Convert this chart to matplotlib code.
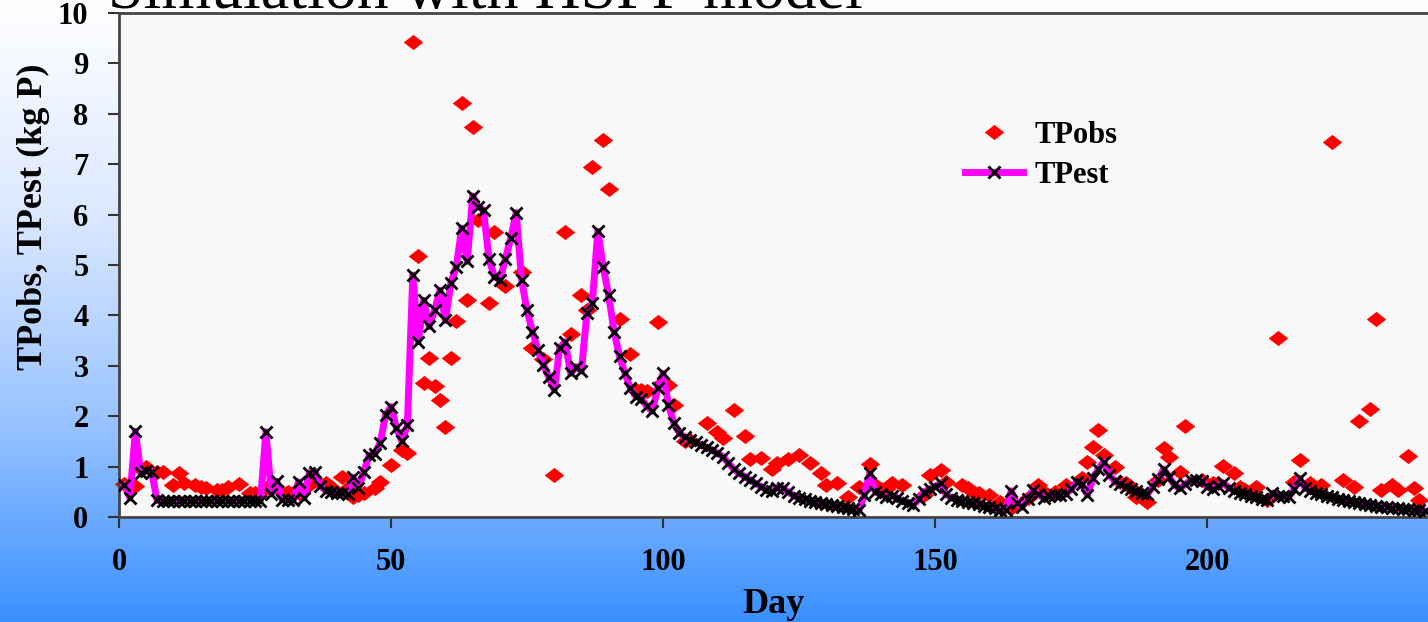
import matplotlib.pyplot as plt
import numpy as np
from matplotlib.colors import LinearSegmentedColormap


# ---------------------------------------------------------
# 1. DATA
# ---------------------------------------------------------

est_days = list(range(1, 241))
tp_est = [
    0.63, 0.38, 1.70, 0.88, 0.92, 0.90, 0.33, 0.32, 0.32, 0.32,
    0.32, 0.32, 0.32, 0.32, 0.32, 0.32, 0.32, 0.32, 0.32, 0.32,
    0.32, 0.32, 0.32, 0.32, 0.32, 0.32, 1.69, 0.46, 0.71, 0.34,
    0.34, 0.33, 0.70, 0.38, 0.88, 0.90, 0.62, 0.52, 0.50, 0.48,
    0.47, 0.45, 0.79, 0.58, 0.90, 1.23, 1.25, 1.47, 2.02, 2.19,
    1.76, 1.50, 1.83, 4.80, 3.48, 4.30, 3.78, 4.10, 4.50, 3.90,
    4.64, 4.97, 5.73, 5.07, 6.37, 6.16, 6.09, 5.12, 4.77, 4.70,
    5.12, 5.53, 6.04, 4.70, 4.10, 3.68, 3.31, 3.02, 2.78, 2.52,
    3.35, 3.48, 2.85, 2.98, 2.90, 4.05, 4.24, 5.67, 4.96, 4.40,
    3.68, 3.19, 2.85, 2.55, 2.39, 2.35, 2.20, 2.10, 2.55, 2.85,
    2.22, 1.86, 1.66, 1.58, 1.53, 1.48, 1.43, 1.38, 1.33, 1.27,
    1.20, 1.07, 0.95, 0.87, 0.80, 0.73, 0.67, 0.60, 0.54, 0.52,
    0.58, 0.57, 0.50, 0.42, 0.38, 0.35, 0.32, 0.29, 0.27, 0.25,
    0.23, 0.21, 0.19, 0.17, 0.16, 0.14, 0.44, 0.87, 0.50, 0.45,
    0.40, 0.42, 0.38, 0.32, 0.27, 0.24, 0.35, 0.50, 0.55, 0.60,
    0.67, 0.45, 0.38, 0.34, 0.31, 0.29, 0.27, 0.25, 0.22, 0.20,
    0.17, 0.14, 0.13, 0.52, 0.27, 0.20, 0.35, 0.54, 0.45, 0.37,
    0.42, 0.44, 0.43, 0.45, 0.55, 0.70, 0.65, 0.44, 0.77, 0.95,
    1.10, 0.83, 0.72, 0.65, 0.60, 0.56, 0.52, 0.48, 0.45, 0.60,
    0.75, 0.95, 0.80, 0.63, 0.57, 0.65, 0.73, 0.73, 0.72, 0.60,
    0.55, 0.62, 0.67, 0.58, 0.52, 0.48, 0.45, 0.42, 0.39, 0.36,
    0.34, 0.47, 0.42, 0.42, 0.40, 0.55, 0.77, 0.57, 0.52, 0.48,
    0.45, 0.42, 0.39, 0.36, 0.33, 0.31, 0.29, 0.27, 0.25, 0.23,
    0.22, 0.20, 0.19, 0.18, 0.17, 0.16, 0.15, 0.14, 0.13, 0.12,
]

obs_days = [
    1, 3, 4, 5, 7, 8, 10, 11, 12, 14, 15, 16, 18, 19, 20, 22, 24, 25,
    27, 28, 30, 31, 32, 33, 35, 36, 38, 39, 41, 42, 43, 44, 45, 47, 48,
    50, 52, 53, 54, 55, 56, 57, 58, 59, 60, 61, 62, 63, 64, 65, 66, 68,
    69, 71, 74, 76, 78, 80, 82, 83, 85, 86, 87, 89, 90, 92, 94, 95, 96,
    97, 99, 100, 101, 102, 104, 105, 108, 110, 111, 113, 115, 116, 118,
    120, 121, 123, 125, 127, 129, 130, 132, 134, 136, 138, 139, 140,
    141, 142, 144, 148, 149, 151, 152, 155, 156, 157, 158, 160, 162,
    164, 167, 169, 170, 172, 174, 177, 178, 179, 180, 181, 183, 184,
    185, 186, 187, 189, 191, 192, 193, 195, 196, 199, 201, 202, 203,
    205, 206, 207, 209, 211, 213, 216, 217, 219, 221, 223, 225, 227,
    228, 230, 231, 232, 234, 235, 237, 238, 239,
]
tp_obs = [
    0.65, 0.62, 0.95, 1.00, 0.90, 0.90, 0.63, 0.88, 0.67, 0.63, 0.60,
    0.58, 0.54, 0.54, 0.59, 0.65, 0.48, 0.48, 0.58, 0.61, 0.50, 0.50,
    0.48, 0.48, 0.63, 0.73, 0.67, 0.59, 0.80, 0.57, 0.40, 0.44, 0.47,
    0.57, 0.70, 1.03, 1.33, 1.27, 9.43, 5.18, 2.65, 3.15, 2.59, 2.32,
    1.79, 3.15, 3.88, 8.21, 4.31, 7.73, 5.90, 4.24, 5.66, 4.58, 4.87,
    3.35, 3.13, 0.83, 5.66, 3.63, 4.40, 4.10, 6.94, 7.48, 6.50, 3.93,
    3.23, 2.52, 2.52, 2.50, 3.87, 2.68, 2.62, 2.22, 1.50, 1.52, 1.86,
    1.69, 1.56, 2.12, 1.61, 1.16, 1.18, 0.95, 1.07, 1.16, 1.23, 1.07,
    0.87, 0.63, 0.67, 0.40, 0.60, 1.05, 0.63, 0.55, 0.55, 0.67, 0.63,
    0.44, 0.83, 0.93, 0.70, 0.63, 0.57, 0.50, 0.47, 0.44, 0.30, 0.17,
    0.37, 0.63, 0.50, 0.50, 0.63, 0.77, 1.10, 1.39, 1.73, 1.23, 1.00,
    0.70, 0.67, 0.57, 0.40, 0.30, 0.73, 1.36, 1.20, 0.90, 1.80, 0.73,
    0.67, 0.67, 1.01, 0.87, 0.60, 0.54, 0.60, 0.34, 3.55, 0.70, 1.13,
    0.67, 0.63, 7.45, 0.73, 0.60, 1.90, 2.14, 3.92, 0.54, 0.63, 0.54,
    1.22, 0.57, 0.34,
]

x_ticks = [0, 50, 100, 150, 200]
y_ticks = list(range(0, 11))


# ---------------------------------------------------------
# 2. FIGURE WITH GRADIENT BACKGROUND
# ---------------------------------------------------------

plt.rcParams["font.family"] = ["Liberation Serif", "DejaVu Serif"]

fig = plt.figure(figsize=(14.28, 6.22), dpi=100)

bg = fig.add_axes([0, 0, 1, 1], zorder=-10)
bg_cmap = LinearSegmentedColormap.from_list(
    "bg", ["#ffffff", "#dde9ff", "#9cc5ff", "#3a90ff"]
)
grad = np.linspace(0, 1, 256).reshape(-1, 1)
bg.imshow(grad, aspect="auto", cmap=bg_cmap, extent=[0, 1, 0, 1],
          origin="upper")
bg.set_axis_off()

fig.text(108 / 1428, 1 - 8 / 622, "Simulation with HSPF model",
         fontsize=46, va="baseline", ha="left", color="black")

ax = fig.add_axes([119 / 1428, 105 / 622, 1309 / 1428, 504 / 622])
ax.set_facecolor("#f8f8f8")


# ---------------------------------------------------------
# 3. SERIES
# ---------------------------------------------------------

diamond = [(-1, 0), (0, 0.78), (1, 0), (0, -0.78), (-1, 0)]

ax.plot(obs_days, tp_obs, linestyle="none", marker=diamond,
        markersize=14, color="#ff0000", markeredgewidth=0,
        label="TPobs", zorder=2, clip_on=False)

ax.plot(est_days, tp_est, color="#ff00ff", linewidth=5,
        marker="x", markersize=9, markeredgecolor="black",
        markeredgewidth=2, label="TPest", zorder=3)


# ---------------------------------------------------------
# 4. AXES STYLE
# ---------------------------------------------------------

ax.set_xlim(0, 240.6)
ax.set_ylim(0, 10)
ax.set_xticks(x_ticks)
ax.set_yticks(y_ticks)

ax.tick_params(axis="both", direction="out", colors="#333333",
               width=1.5, labelcolor="black", labelsize=22)
ax.tick_params(axis="y", length=8, pad=14)
ax.tick_params(axis="x", length=8, pad=14)
for lab in ax.get_xticklabels() + ax.get_yticklabels():
    lab.set_fontweight("bold")

for side in ["left", "bottom", "top"]:
    ax.spines[side].set_color("#444444")
    ax.spines[side].set_linewidth(2)
ax.spines["right"].set_visible(False)

ax.set_xlabel("Day", fontsize=26, fontweight="bold", labelpad=8)
ax.set_ylabel("TPobs, TPest (kg P)", fontsize=26, fontweight="bold")
ax.yaxis.set_label_coords(-0.053, 0.595)

ax.legend(loc="upper left", bbox_to_anchor=(0.625, 0.84), frameon=False,
          prop={"weight": "bold", "size": 22}, handlelength=1.9,
          handletextpad=0.4, labelspacing=0.35)

plt.savefig("out.png", dpi=100)
plt.close()
